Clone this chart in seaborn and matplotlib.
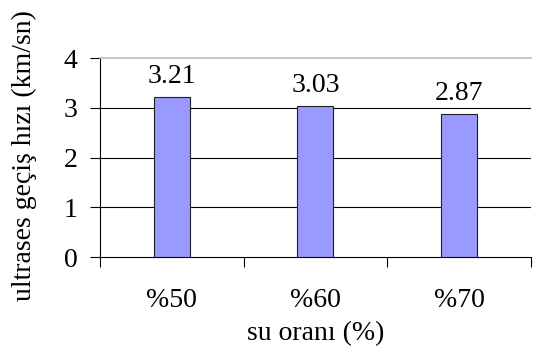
import matplotlib
matplotlib.use("Agg")
import matplotlib.pyplot as plt
import seaborn as sns
import pandas as pd

categories = ["%50", "%60", "%70"]
values = [3.21, 3.03, 2.87]
value_labels = ["3.21", "3.03", "2.87"]
y_ticks = [0, 1, 2, 3, 4]

sns.set_theme(style="white")
plt.rcParams["font.family"] = ["Liberation Serif", "DejaVu Serif"]

FS = 20

df = pd.DataFrame({"oran": categories, "hiz": values})

fig = plt.figure(figsize=(5.34, 3.54), dpi=100)
ax = fig.add_axes([0.187, 0.274, 0.807, 0.562])

sns.barplot(data=df, x="oran", y="hiz", ax=ax, color="#9999FF",
            saturation=1, width=0.25, edgecolor="#202020", linewidth=0.8,
            zorder=3)

ax.set_ylim(0, 4)
ax.set_xlim(-0.5, 2.5)
ax.set_yticks(y_ticks)
ax.set_yticklabels([str(t) for t in y_ticks], fontsize=FS)
ax.set_xticks([0, 1, 2])
ax.set_xticklabels(categories, fontsize=FS)

# category separators on the x axis
ax.set_xticks([-0.5, 0.5, 1.5, 2.5], minor=True)
ax.tick_params(axis="x", which="major", length=0, pad=22, colors="black")
ax.tick_params(axis="x", which="minor", length=7, width=0.8, direction="out",
               color="black", bottom=True)
ax.tick_params(axis="y", length=7, width=0.8, direction="out", color="black",
               left=True, pad=9, colors="black")

for y in y_ticks[1:-1]:
    ax.axhline(y, color="black", linewidth=0.8, zorder=1)

ax.spines["left"].set_color("black")
ax.spines["left"].set_linewidth(0.8)
ax.spines["bottom"].set_color("black")
ax.spines["bottom"].set_linewidth(0.8)
ax.spines["top"].set_color("#bbbbbb")
ax.spines["top"].set_linewidth(1.2)
ax.spines["right"].set_visible(False)

for i, (v, lab) in enumerate(zip(values, value_labels)):
    ax.annotate(lab, (i, v), xytext=(0, 6), textcoords="offset points",
                ha="center", va="bottom", fontsize=FS, color="black")

ax.set_xlabel("su oranı (%)", fontsize=FS, color="black")
ax.xaxis.set_label_coords(0.5, -0.32)
ax.set_ylabel("ultrases geçiş hızı (km/sn)", fontsize=FS, color="black")
ax.yaxis.set_label_coords(-0.145, 0.51)

fig.savefig("out.png", dpi=100)
